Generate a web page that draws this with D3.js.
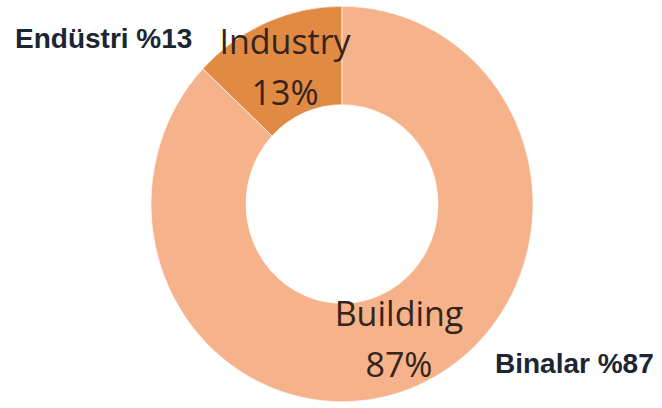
<!DOCTYPE html>
<html>
<head>
<meta charset="utf-8">
<script src="https://cdn.jsdelivr.net/npm/d3@7"></script>
<style>
  body { margin: 0; background: #fff; }
</style>
</head>
<body>
<div id="chart"></div>
<script>
// data
var categories = ["Industry", "Building"];
var values = [13, 87];
var trLabels = ["Endüstri %13", "Binalar %87"];
var colors = ["#E08A44", "#F6B28B"];

// canvas
var width = 662, height = 408;
var cx = 342, cy = 204;
var outerR = 191, innerR = 96;
var yStretch = 1.035; // the donut is slightly taller than wide

var svg = d3.select("#chart").append("svg")
  .attr("width", width)
  .attr("height", height);

var pie = d3.pie()
  .sort(null)
  .startAngle(-2 * Math.PI * values[0] / d3.sum(values))
  .endAngle(2 * Math.PI - 2 * Math.PI * values[0] / d3.sum(values))
  .value(function(d) { return d; });

var arc = d3.arc().innerRadius(innerR).outerRadius(outerR);

var arcs = pie(values);

var g = svg.append("g")
  .attr("transform", "translate(" + cx + "," + cy + ") scale(1," + yStretch + ")");

g.selectAll("path")
  .data(arcs)
  .enter().append("path")
  .attr("d", arc)
  .style("fill", function(d, i) { return colors[i]; })
  .style("stroke", "#fff")
  .style("stroke-width", 0.6);

// data labels inside the slices (two lines, around the centroid)
var lbl = svg.selectAll(".lbl")
  .data(arcs)
  .enter().append("g")
  .attr("class", "lbl")
  .attr("transform", function(d) {
    var c = arc.centroid(d);
    return "translate(" + (cx + c[0]) + "," + (cy + c[1] * yStretch) + ")";
  });

lbl.append("text")
  .attr("y", -14)
  .attr("text-anchor", "middle")
  .style("font-family", "'Open Sans', sans-serif")
  .style("font-size", "34px")
  .style("fill", "#35241a")
  .text(function(d, i) { return categories[i]; });

lbl.append("text")
  .attr("y", 37)
  .attr("text-anchor", "middle")
  .style("font-family", "'Open Sans', sans-serif")
  .style("font-size", "34px")
  .style("fill", "#35241a")
  .text(function(d) { return d.value + "%"; });

// turkish labels outside the ring
svg.append("text")
  .attr("x", 15)
  .attr("y", 48)
  .style("font-family", "'Liberation Sans', Arial, sans-serif")
  .style("font-weight", "bold")
  .style("font-size", "28px")
  .style("fill", "#1c2533")
  .text(trLabels[0]);

svg.append("text")
  .attr("x", 495)
  .attr("y", 373)
  .style("font-family", "'Liberation Sans', Arial, sans-serif")
  .style("font-weight", "bold")
  .style("font-size", "28px")
  .style("fill", "#1c2533")
  .text(trLabels[1]);
</script>
</body>
</html>
